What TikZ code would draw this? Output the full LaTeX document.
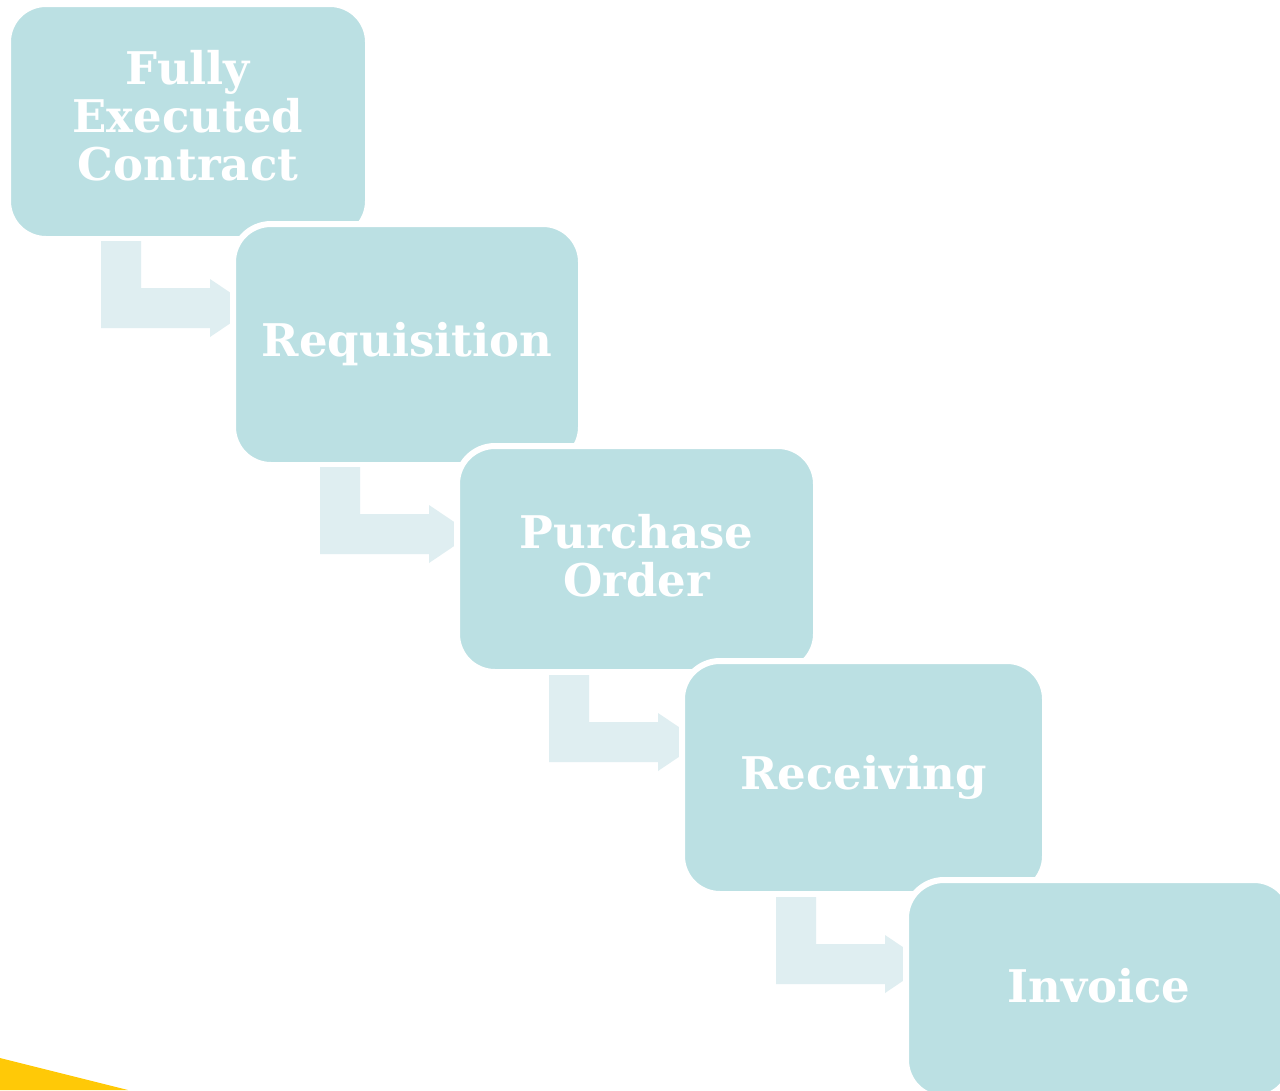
\documentclass[tikz,border=0pt]{standalone}
\usepackage{fontspec}
\setmainfont{DejaVu Serif}
\usetikzlibrary{calc}
\definecolor{boxfill}{HTML}{BBE0E3}
\definecolor{arrowfill}{HTML}{DFEEF1}
\definecolor{cornergold}{HTML}{FFC907}
\tikzset{
  % white 6pt rim outside each box: 6pt stroke centred 3pt beyond the fill edge
  stepbox/.style={rectangle, rounded corners=38pt, fill=boxfill, draw=white,
    line width=6pt, align=center, text=white,
    font=\fontsize{45}{48}\selectfont\bfseries, inner sep=0pt},
  bentarrow/.pic={
    \fill[arrowfill] (0,0) -- (40,0) -- (40,47) -- (109,47) -- (109,38)
      -- (152,67) -- (109,96) -- (109,87) -- (0,87) -- cycle;
  }
}
\begin{document}
\begin{tikzpicture}[x=1pt,y=-1pt]
  \clip (0,0) rectangle (1280,1090);
  \fill[white] (0,0) rectangle (1280,1090);
  % corner accent
  \fill[cornergold] (0,1058) -- (128,1090) -- (0,1090) -- cycle;
  % process steps, each laid over the previous one
  \node[stepbox, minimum width=360pt, minimum height=235pt, text depth=12pt]
    (b1) at (188,121.5) {Fully\\Executed\\Contract};
  \pic at ($(b1.south west)+(96,-1)$) {bentarrow};
  \node[stepbox, minimum width=348pt, minimum height=241pt]
    (b2) at (407,344.5) {Requisition};
  \pic at ($(b2.south west)+(90,-1)$) {bentarrow};
  \node[stepbox, minimum width=359pt, minimum height=226pt, text depth=8pt]
    (b3) at (636.5,559) {Purchase\\Order};
  \pic at ($(b3.south west)+(95,0)$) {bentarrow};
  \node[stepbox, minimum width=363pt, minimum height=233pt]
    (b4) at (863.5,777.5) {Receiving};
  \pic at ($(b4.south west)+(97,0)$) {bentarrow};
  \node[stepbox, minimum width=386pt, minimum height=218pt, text depth=8pt]
    (b5) at (1099,989) {Invoice};
\end{tikzpicture}
\end{document}
